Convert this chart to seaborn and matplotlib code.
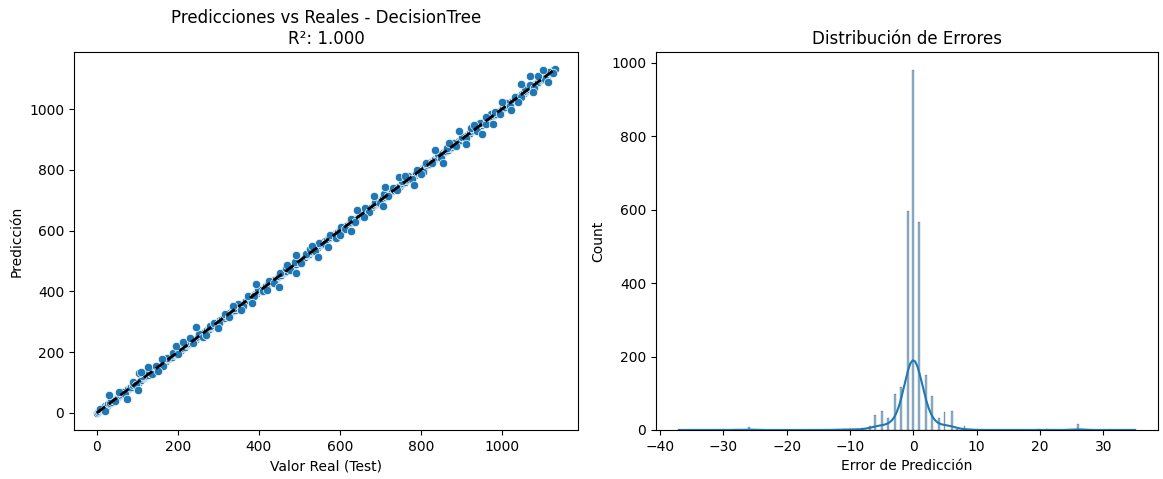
import numpy as np
import pandas as pd
import matplotlib
matplotlib.use("Agg")
import matplotlib.pyplot as plt
import seaborn as sns

# Test-set targets that the tree predicts exactly (they sit on the identity line)
exact_real = [0, 2, 5, 9, 12, 16, 21, 24, 28, 33, 37, 41, 46, 50, 55, 58, 63, 67, 72, 77,
              81, 85, 90, 94, 99, 103, 108, 113, 117, 121, 126, 131, 135, 140, 144, 149,
              153, 158, 162, 167, 171, 176, 181, 185, 190, 194, 199, 203, 208, 212, 217,
              222, 226, 231, 235, 240, 244, 249, 254, 258, 263, 267, 272, 276, 281, 286,
              290, 295, 299, 304, 308, 313, 318, 322, 327, 331, 336, 340, 345, 350, 354,
              359, 363, 368, 372, 377, 382, 386, 391, 395, 400, 404, 409, 414, 418, 423,
              427, 432, 436, 441, 446, 450, 455, 459, 464, 468, 473, 478, 482, 487, 491,
              496, 500, 505, 510, 514, 519, 523, 528, 532, 537, 542, 546, 551, 555, 560,
              564, 569, 574, 578, 583, 587, 592, 596, 601, 606, 610, 615, 619, 624, 628,
              633, 638, 642, 647, 651, 656, 660, 665, 670, 674, 679, 683, 688, 692, 697,
              702, 706, 711, 715, 720, 724, 729, 734, 738, 743, 747, 752, 756, 761, 766,
              770, 775, 779, 784, 788, 793, 798, 802, 807, 811, 816, 820, 825, 830, 834,
              839, 843, 848, 852, 857, 862, 866, 871, 875, 880, 884, 889, 894, 898, 903,
              907, 912, 916, 921, 926, 930, 935, 939, 944, 948, 953, 958, 962, 967, 971,
              976, 980, 985, 990, 994, 999, 1003, 1008, 1012, 1017, 1022, 1026, 1031,
              1035, 1040, 1044, 1049, 1054, 1058, 1063, 1067, 1072, 1076, 1081, 1086,
              1090, 1095, 1099, 1104, 1108, 1113, 1118, 1122, 1127, 1131]

# Test-set targets with a small error (real value, error)
near_real = [7, 18, 35, 44, 61, 70, 88, 97, 112, 124, 137, 146, 164, 173, 188, 201, 214,
             228, 238, 252, 261, 279, 288, 302, 316, 325, 338, 348, 361, 374, 389, 398,
             411, 425, 438, 452, 466, 476, 489, 503, 516, 526, 539, 549, 562, 576, 589,
             603, 613, 626, 636, 649, 662, 672, 686, 699, 709, 718, 732, 741, 754, 768,
             777, 791, 804, 813, 827, 841, 850, 864, 878, 887, 900, 910, 924, 937, 946,
             960, 973, 983, 996, 1010, 1019, 1033, 1046, 1056, 1069, 1079, 1092, 1106,
             1116, 1125]
near_err = [6, -8, 10, -5, 9, -7, 12, -6, 8, 11, -9, 7, -10, 6, 9, -8, 12, 10, -7, 8,
            -11, 6, 9, -6, 10, -9, 7, 11, -8, 12, -6, 9, -10, 8, -12, 7, 10, -7, 9, -11,
            6, 12, -8, 10, -6, 9, -12, 7, -9, 11, -8, 6, 12, -10, 9, -7, 11, -6, 8, -9,
            10, 12, -8, 7, -11, 9, -6, 10, -12, 8, 11, -9, 7, -7, 12, -10, 9, -8, 11, 6,
            -12, 10, -9, 8, -7, 12, 11, -10, 9, -8, 7, -6]

# Test-set targets with a large prediction error: (real, predicted)
miss_real = [20, 31, 55, 74, 101, 105, 110, 126, 150, 160, 196, 212, 230, 245, 270, 300,
             335, 355, 384, 393, 420, 449, 470, 491, 491, 530, 547, 571, 600, 628, 642,
             660, 683, 706, 710, 745, 760, 782, 800, 835, 854, 870, 894, 912, 930, 951,
             960, 978, 1000, 1023, 1040, 1048, 1068, 1077, 1090, 1101, 1114]
miss_pred = [5, 60, 70, 47, 75, 131, 133, 152, 138, 178, 221, 232, 246, 282, 255, 280,
             352, 340, 360, 423, 405, 413, 488, 520, 461, 548, 514, 547, 585, 600, 666,
             645, 713, 680, 743, 775, 778, 751, 785, 864, 823, 888, 927, 884, 948, 919,
             975, 950, 1024, 998, 1022, 1083, 1108, 1055, 1110, 1127, 1088]

# Prediction errors and how many test rows have each one
err_values = [-37, -28, -26, -20, -15, -12, -11, -10, -9, -8, -7, -6, -5, -4, -3, -2, -1,
              0, 1, 2, 3, 4, 5, 6, 7, 8, 9, 10, 12, 15, 20, 21, 26, 31, 35]
err_counts = [1, 2, 9, 1, 1, 3, 4, 4, 4, 5, 12, 41, 52, 32, 97, 117, 597,
              980, 565, 151, 92, 34, 49, 52, 2, 10, 2, 1, 1, 1, 2, 2, 16, 2, 1]

r2_score = 1.000
model_name = "DecisionTree"

real_all = list(exact_real) + list(near_real) + list(miss_real)
pred_all = (list(exact_real)
            + [r + e for r, e in zip(near_real, near_err)]
            + list(miss_pred))
scatter_df = pd.DataFrame({"real": real_all, "pred": pred_all})
errors = np.repeat(np.array(err_values, dtype=float), err_counts)

fig = plt.figure(figsize=(11.63, 4.79), dpi=100)
ax1 = fig.add_axes([0.0636, 0.1023, 0.4334, 0.7891])
ax2 = fig.add_axes([0.5641, 0.1023, 0.4316, 0.7891])

# Predicted vs. actual values
sns.scatterplot(data=scatter_df, x="real", y="pred", ax=ax1)
lo = min(scatter_df["real"].min(), scatter_df["pred"].min())
hi = max(scatter_df["real"].max(), scatter_df["pred"].max())
ax1.plot([lo, hi], [lo, hi], "k--", lw=2)
ax1.set_title(f"Predicciones vs Reales - {model_name}\nR²: {r2_score:.3f}")
ax1.set_xlabel("Valor Real (Test)")
ax1.set_ylabel("Predicción")

# Error distribution
sns.histplot(errors, bins=250, kde=True, kde_kws={"bw_adjust": 1.45}, ax=ax2)
ax2.set_title("Distribución de Errores")
ax2.set_xlabel("Error de Predicción")

fig.savefig("out.png", dpi=100)
